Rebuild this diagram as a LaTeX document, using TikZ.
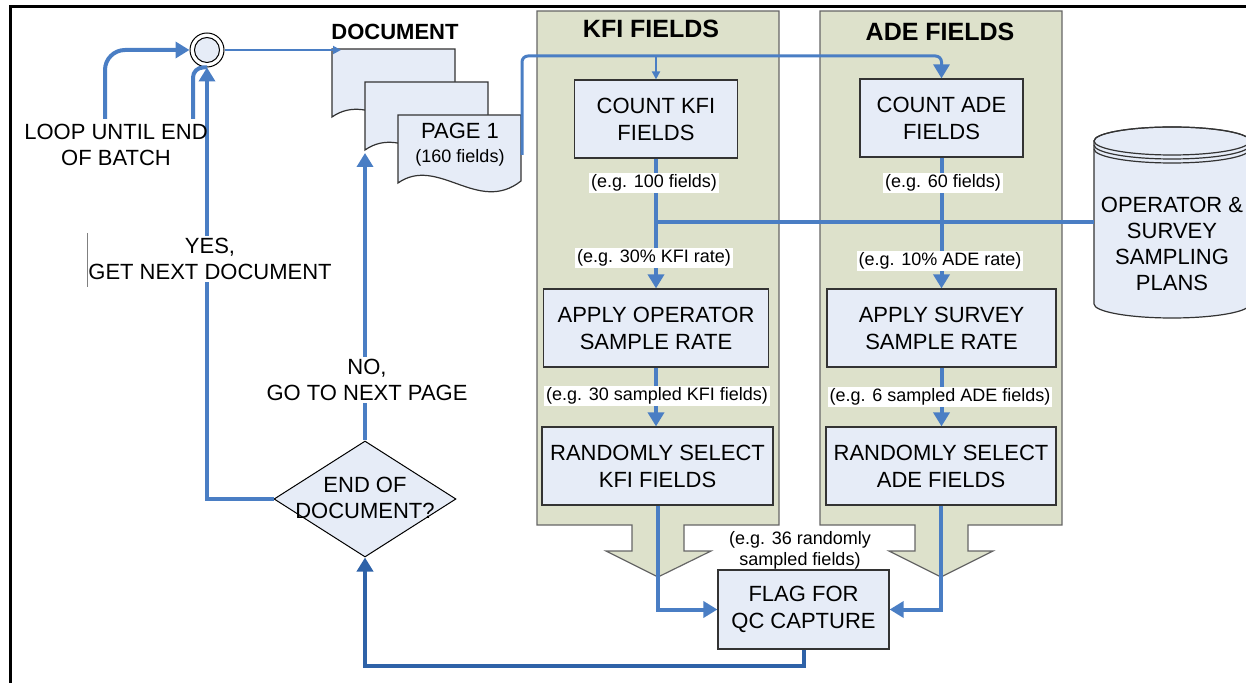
\documentclass[tikz,border=0pt]{standalone}
\usepackage{fontspec}
\setmainfont{Liberation Sans}
\usetikzlibrary{arrows.meta,shapes.geometric,calc}
\definecolor{flow}{HTML}{4A7EC4}
\definecolor{flowdark}{HTML}{2E62A8}
\definecolor{boxfill}{HTML}{E6ECF7}
\definecolor{panelfill}{HTML}{DDE1CB}
\begin{document}
\begin{tikzpicture}[x=0.5pt,y=-0.5pt,
  box/.style={draw=black!80, fill=boxfill, line width=0.6pt, align=center,
    font=\fontsize{11}{13.5}\selectfont, inner sep=0pt},
  plain/.style={align=center, font=\fontsize{11}{13}\selectfont, inner sep=1pt},
  lbl/.style={fill=white, inner sep=1pt, font=\fontsize{9}{11}\selectfont, align=center},
  title/.style={font=\bfseries\fontsize{12.5}{14}\selectfont, inner sep=0pt},
  panel/.style={draw=black!60, fill=panelfill, line width=0.6pt},
  flowline/.style={draw=flow, line width=2pt},
  darkline/.style={draw=flowdark, line width=2pt},
  thinline/.style={draw=flow, line width=0.9pt},
  tip/.style={-{Triangle[width=8pt,length=7pt]}},
  smalltip/.style={-{Triangle[width=4pt,length=4pt]}},
  sheet/.pic={\path[draw=black!80, fill=boxfill, line width=0.6pt]
    (0,0) -- (123,0) -- (123,66) .. controls (80,100) and (40,40) .. (0,68) -- cycle;}
]
\useasboundingbox (0,0) rectangle (1246,683);

% frame
\draw[line width=1.5pt] (10,683) -- (10,7) -- (1246,7);

% panels
\path[panel] (537,11) -- (779,11) -- (779,525) -- (684,525) -- (684,551) -- (711,551)
  -- (658,577) -- (606,551) -- (632,551) -- (632,525) -- (537,525) -- cycle;
\path[panel] (820,11) -- (1062,11) -- (1062,525) -- (968,525) -- (968,551) -- (993,551)
  -- (941,577) -- (889,551) -- (915,551) -- (915,525) -- (820,525) -- cycle;
\node[title] (kfit) at (651,29) {KFI FIELDS};
\node[title] (adet) at (940,32) {ADE FIELDS};

% boxes
\node[box, minimum width=81.5pt, minimum height=39pt] (ck) at (656,119) {COUNT KFI\\FIELDS};
\node[box, minimum width=81.5pt, minimum height=39pt] (ca) at (941.5,118) {COUNT ADE\\FIELDS};
\node[box, minimum width=112.5pt, minimum height=39pt] (ak) at (656,328) {APPLY OPERATOR\\SAMPLE RATE};
\node[box, minimum width=114.5pt, minimum height=39pt] (aa) at (941.5,328) {APPLY SURVEY\\SAMPLE RATE};
\node[box, minimum width=115.5pt, minimum height=39pt] (rk) at (657.5,466) {RANDOMLY SELECT\\KFI FIELDS};
\node[box, minimum width=115pt, minimum height=39pt] (ra) at (941,466) {RANDOMLY SELECT\\ADE FIELDS};
\node[box, minimum width=85.5pt, minimum height=39.5pt] (flag) at (803.5,609.5) {FLAG FOR\\QC CAPTURE};

% decision
\node[diamond, draw=black, fill=boxfill, line width=0.5pt, minimum width=91pt,
  minimum height=58pt, inner sep=0pt] (dec) at (365,499) {};
\node[plain] (dect) at (365,498) {END OF\\DOCUMENT?};

% loop circle
\node[circle, draw=black, fill=white, line width=0.5pt, minimum size=17pt, inner sep=0pt] (loop) at (207,50) {};
\node[circle, draw=black, fill=boxfill, line width=0.5pt, minimum size=12.5pt, inner sep=0pt] (loopin) at (207,50) {};

% document stack
\node[title, font=\bfseries\fontsize{11}{13}\selectfont] (doct) at (395,32) {DOCUMENT};
\pic at (332,49) {sheet};
\pic at (365,82) {sheet};
\pic at (398,115) {sheet};
\node[plain] (pg) at (460,131) {PAGE 1};
\node[lbl, fill=none] (pgf) at (460,158) {(160 fields)};
\coordinate (d1) at (341,50);
\coordinate (d2) at (365,153);
\coordinate (d3) at (522,155);

% database cylinder
\path[draw=black!80, fill=boxfill, line width=0.6pt]
  (1094,141) -- (1094,304) arc[start angle=180, end angle=360, x radius=39pt, y radius=7pt]
  -- (1250,141) arc[start angle=0, end angle=180, x radius=39pt, y radius=7pt] -- cycle;
\draw[black!80, line width=0.6pt] (1172,141) ellipse[x radius=39pt, y radius=7pt];
\draw[black!80, line width=0.6pt] (1094,145) arc[start angle=180, end angle=360, x radius=39pt, y radius=7pt];
\draw[black!80, line width=0.6pt] (1094,149) arc[start angle=180, end angle=360, x radius=39pt, y radius=7pt];
\node[plain, minimum width=78pt] (db) at (1172,244) {OPERATOR \&\\SURVEY\\SAMPLING\\PLANS};
\coordinate (dbw) at (1094,222);

% connectors: document to fields
\draw[thinline, smalltip] (loop.east) -- (d1);
\draw[draw=flow, line width=1.5pt, rounded corners=3pt, tip] (d3) -- (522,56) -| (ca.north);
\coordinate (br) at (656,56);
\draw[thinline, smalltip] (br) -- (ck.north);

% KFI chain
\draw[flowline, tip] (ck.south) -- (ak.north);
\draw[flowline, tip] (ak.south) -- (ak.south |- rk.north);
\draw[flowline, tip] (rk.south) |- (flag.west);
% ADE chain
\draw[flowline, tip] (ca.south) -- (aa.north);
\draw[flowline, tip] (aa.south) -- (aa.south |- ra.north);
\draw[flowline, tip] (ra.south) |- (flag.east);
% sampling plans line
\coordinate (j1) at (656,222);
\draw[flowline] (j1) -- (dbw);

% labels on chains
\node[lbl] (l1) at (654,183) {(e.g. 100 fields)};
\node[lbl] (l2) at (943,183) {(e.g. 60 fields)};
\node[lbl] (l3) at (654,258) {(e.g. 30\% KFI rate)};
\node[lbl] (l4) at (940,261) {(e.g. 10\% ADE rate)};
\node[lbl] (l5) at (657,396) {(e.g. 30 sampled KFI fields)};
\node[lbl] (l6) at (940,397) {(e.g. 6 sampled ADE fields)};
\node[lbl, fill=none, font=\fontsize{9}{10.5}\selectfont] (l7) at (800,550) {(e.g. 36 randomly\\sampled fields)};

% back to decision
\draw[darkline, tip] (flag.south) -- ++(0,16) -| (dec.south);
% NO path
\draw[flowline, tip] (dec.north) -- (d2);
\node[plain, fill=white] (no) at (367,380) {NO,\\GO TO NEXT PAGE};
% YES path
\draw[flowline, tip] (dec.west) -| (loop.south);
\node[plain, fill=white] (yes) at (210,259) {YES,\\GET NEXT DOCUMENT};
\draw[black!50, line width=0.4pt] (87,233) -- (87,287);
% loop label
\coordinate (la) at (105,119);
\coordinate (lb) at (193,119);
\draw[flowline, tip, rounded corners=10pt] (la) |- (loop.west);
\draw[flowline, rounded corners=5pt] (lb) |- (loop.south);
\node[plain] (loopl) at (116,145) {LOOP UNTIL END\\OF BATCH};
\end{tikzpicture}
\end{document}
